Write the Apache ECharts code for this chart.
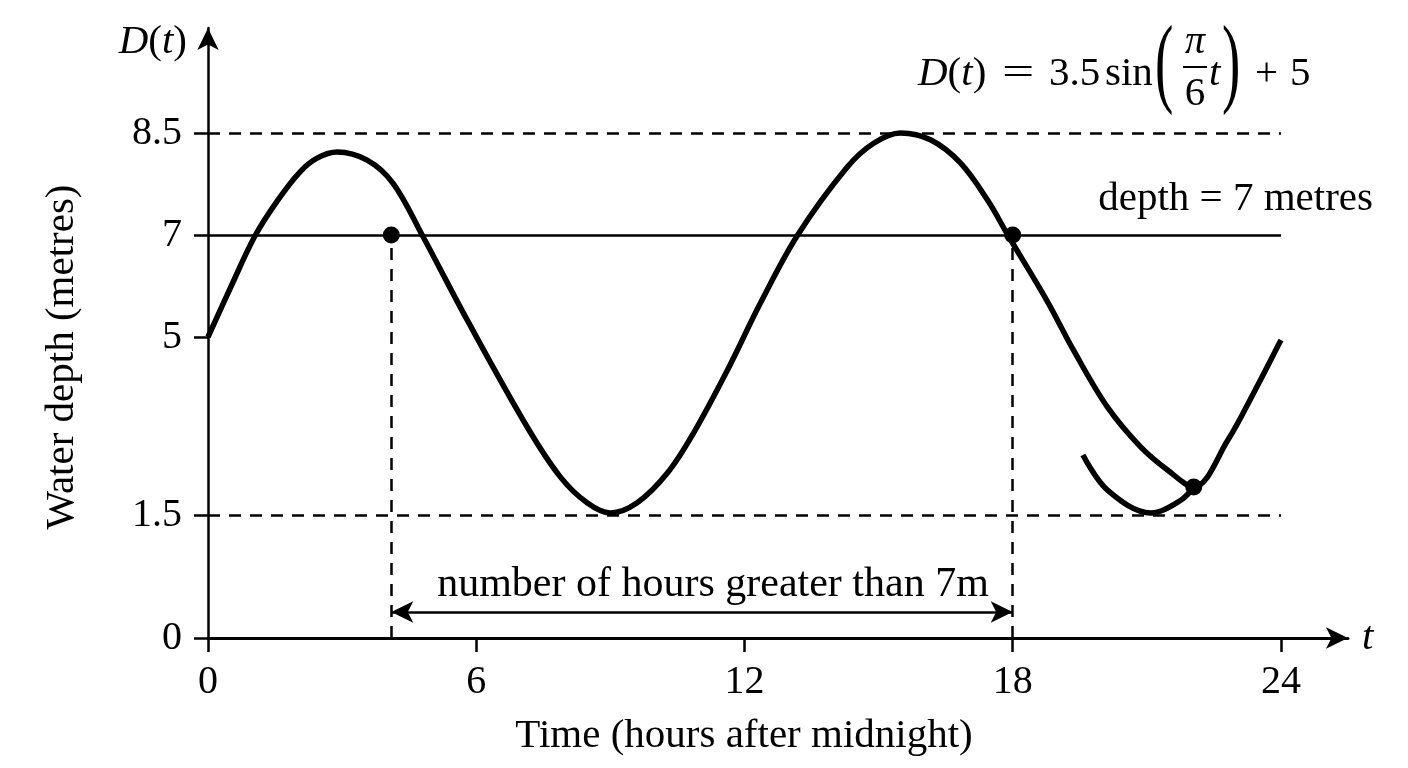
<!DOCTYPE html>
<html>
<head>
<meta charset="utf-8">
<script src="https://cdn.jsdelivr.net/npm/echarts@6/dist/echarts.min.js"></script>
<style>
html, body { margin: 0; padding: 0; background: #fff; }
#main { width: 1408px; height: 768px; }
</style>
</head>
<body>
<div id="main"></div>
<script>
// values (hours after midnight, depth in metres)
var hours = [0, 0.51, 1.05, 1.57, 2.06, 2.44, 2.89, 3.56, 4.14, 4.79, 5.8, 7.14, 7.88, 8.48, 9.0,
    9.6, 10.28, 10.86, 11.62, 12.36, 13.19, 14.3, 14.89, 15.49, 16.16, 16.83, 17.44, 17.89,
    18.78, 19.36, 20.12, 20.86, 21.47, 22.05, 22.81, 23.39, 24];
var depth = [5, 5.98, 6.98, 7.52, 7.93, 8.13, 8.22, 8.1, 7.76, 7, 5.33, 3.23, 2.25, 1.74, 1.54,
    1.74, 2.33, 3.11, 4.35, 5.67, 7, 8.0, 8.35, 8.5, 8.4, 8.06, 7.51, 7,
    5.69, 4.74, 3.62, 2.84, 2.38, 2.05, 2.97, 3.9, 4.94];
// the short extra stroke near the last trough
var hoursB = [19.57, 20.12, 21.09, 21.76, 22.05];
var depthB = [2.68, 1.99, 1.54, 1.79, 2.05];
// marked points
var dotHours = [4.1, 18, 22.05];
var dotDepth = [7, 7, 2.05];

var hourTicks = [0, 6, 12, 18, 24];
var depthTicks = [0, 1.5, 5, 7, 8.5];
var depthLabels = ['0', '1.5', '5', '7', '8.5'];
var maxDepth = 8.5;
var minDepth = 1.5;
var threshold = 7;
var startHour = 4.1;
var endHour = 18;

// the sketch spaces its y ticks by hand, so map each tick to its drawn height
var tickSpots = [0, 12.3, 30.1, 40.3, 50.5];
var spanLevel = 2.6;

function warp(v) {
    for (var i = 1; i < depthTicks.length; i++) {
        if (v <= depthTicks[i] || i === depthTicks.length - 1) {
            var a = depthTicks[i - 1], b = depthTicks[i];
            return tickSpots[i - 1] + (v - a) / (b - a) * (tickSpots[i] - tickSpots[i - 1]);
        }
    }
}

function pairs(xs, ys) {
    return xs.map(function (x, i) { return [x, warp(ys[i])]; });
}

var serif = '"Liberation Serif", "Times New Roman", serif';
var ink = '#000';
var dash = { type: [12, 9], width: 2.5, color: ink };
var solid = { type: 'solid', width: 2.5, color: ink };

var myChart = echarts.init(document.getElementById('main'));

function txt(x, y, text, extra, props) {
    var style = { text: text, fill: ink, fontSize: 41, fontFamily: serif, align: 'left', verticalAlign: 'middle' };
    for (var k in extra) style[k] = extra[k];
    var el = { type: 'text', x: x, y: y, style: style, z: 10 };
    for (var p in props) el[p] = props[p];
    return el;
}

var option = {
    animation: false,
    backgroundColor: '#fff',
    grid: { left: 208, right: 60, top: 28, bottom: 130, outerBoundsMode: 'none' },
    xAxis: {
        type: 'value',
        min: 0,
        max: 25.5,
        name: 't',
        nameLocation: 'end',
        nameGap: 14,
        nameTextStyle: { fontFamily: serif, fontSize: 41, fontStyle: 'italic', color: ink, verticalAlign: 'middle' },
        axisLine: { lineStyle: { color: ink, width: 3 }, symbol: ['none', 'arrow'], symbolSize: [16, 22] },
        axisTick: { customValues: hourTicks, length: 14, lineStyle: { color: ink, width: 2.5 } },
        axisLabel: { customValues: hourTicks, margin: 24, fontFamily: serif, fontSize: 40, color: ink },
        splitLine: { show: false }
    },
    yAxis: {
        type: 'value',
        min: 0,
        max: 61,
        name: '{i|D}({i|t})',
        nameLocation: 'end',
        nameGap: -14,
        nameTextStyle: {
            fontFamily: serif, fontSize: 41, color: ink, align: 'right', verticalAlign: 'middle',
            padding: [0, 21, 0, 0],
            rich: { i: { fontFamily: serif, fontSize: 41, fontStyle: 'italic', color: ink } }
        },
        axisLine: { lineStyle: { color: ink, width: 2.5 }, symbol: ['none', 'arrow'], symbolSize: [16, 22] },
        axisTick: { customValues: tickSpots, length: 14, lineStyle: { color: ink, width: 2.5 } },
        axisLabel: {
            customValues: tickSpots,
            margin: 26,
            fontFamily: serif,
            fontSize: 40,
            color: ink,
            formatter: function (val) {
                var best = 0;
                for (var i = 0; i < tickSpots.length; i++) {
                    if (Math.abs(tickSpots[i] - val) < Math.abs(tickSpots[best] - val)) best = i;
                }
                return depthLabels[best];
            }
        },
        splitLine: { show: false }
    },
    graphic: [
        txt(62, 357, 'Water depth (metres)', { align: 'center' }, { rotation: Math.PI / 2 }),
        txt(744, 736, 'Time (hours after midnight)', { align: 'center' }),
        txt(1373, 199, 'depth = 7 metres', { align: 'right' }),
        // formula
        txt(918, 74, '{i|D}({i|t})', { rich: { i: { fontFamily: serif, fontSize: 41, fontStyle: 'italic', fill: ink } } }),
        txt(1002, 74, '=', {}, { scaleX: 1.4 }),
        txt(1049, 74, '3.5'),
        txt(1105, 74, 'sin'),
        txt(1155, 68, '(', { fontSize: 100 }, { scaleX: 0.55 }),
        txt(1195, 42, 'π', { align: 'center', fontStyle: 'italic', fontSize: 40 }),
        { type: 'line', z: 10, shape: { x1: 1183, y1: 67, x2: 1207, y2: 67 }, style: { stroke: ink, lineWidth: 2 } },
        txt(1195, 94, '6', { align: 'center' }),
        txt(1209, 74, 't', { fontStyle: 'italic' }),
        txt(1222, 68, ')', { fontSize: 100 }, { scaleX: 0.55 }),
        txt(1255, 74, '+'),
        txt(1290, 74, '5')
    ],
    series: [
        {
            type: 'scatter',
            data: [],
            z: 1,
            markLine: {
                silent: true,
                animation: false,
                symbol: 'none',
                label: { show: false },
                data: [
                    [{ coord: [0, warp(maxDepth)], lineStyle: dash }, { coord: [24, warp(maxDepth)] }],
                    [{ coord: [0, warp(minDepth)], lineStyle: dash }, { coord: [24, warp(minDepth)] }],
                    [{ coord: [0, warp(threshold)], lineStyle: solid }, { coord: [24, warp(threshold)] }],
                    [{ coord: [startHour, 0], lineStyle: dash }, { coord: [startHour, warp(threshold)] }],
                    [{ coord: [endHour, 0], lineStyle: dash }, { coord: [endHour, warp(threshold)] }],
                    [
                        {
                            coord: [startHour, spanLevel],
                            symbol: 'arrow',
                            symbolSize: [16, 22],
                            lineStyle: solid,
                            label: {
                                show: true,
                                formatter: 'number of hours greater than 7m',
                                position: 'insideMiddleTop',
                                distance: 6,
                                offset: [11, 0],
                                fontFamily: serif,
                                fontSize: 42,
                                color: ink
                            }
                        },
                        { coord: [endHour, spanLevel], symbol: 'arrow', symbolSize: [16, 22] }
                    ]
                ]
            }
        },
        {
            type: 'line',
            data: pairs(hours, depth),
            smooth: 0.35,
            showSymbol: false,
            z: 2,
            lineStyle: { color: ink, width: 5.5 }
        },
        {
            type: 'line',
            data: pairs(hoursB, depthB),
            smooth: 0.35,
            showSymbol: false,
            z: 2,
            lineStyle: { color: ink, width: 5.5 }
        },
        {
            type: 'scatter',
            data: pairs(dotHours, dotDepth),
            symbolSize: 17,
            z: 3,
            itemStyle: { color: ink, opacity: 1 }
        }
    ]
};

myChart.setOption(option);
</script>
</body>
</html>
